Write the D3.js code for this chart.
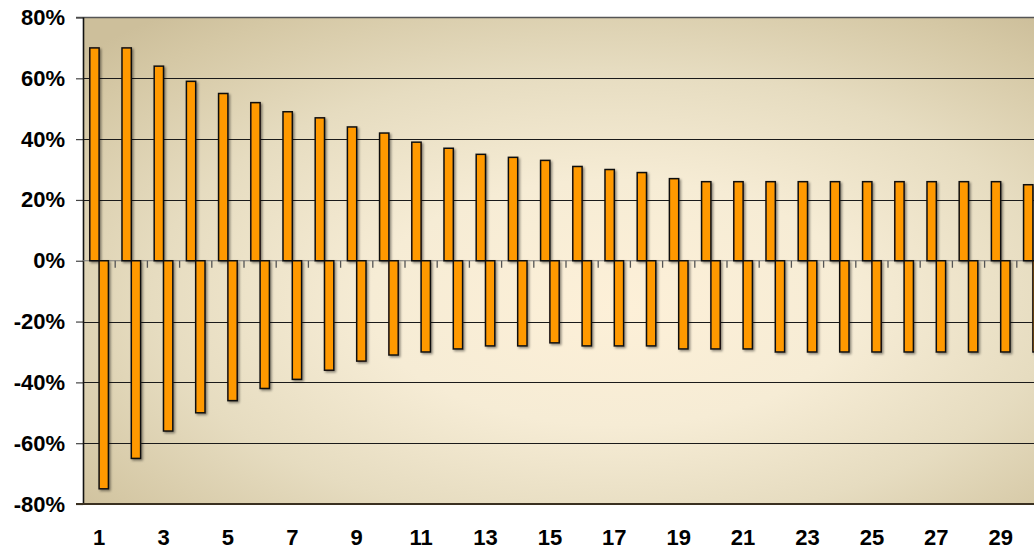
<!DOCTYPE html>
<html>
<head>
<meta charset="utf-8">
<script src="https://cdn.jsdelivr.net/npm/d3@7"></script>
<style>
  html, body { margin: 0; padding: 0; background: #ffffff; }
  svg { display: block; }
  text { font-family: "Liberation Sans", Arial, sans-serif; font-weight: bold; fill: #000; }
</style>
</head>
<body>
<svg id="chart" width="1034" height="550"></svg>
<script>
// Periods along the horizontal axis
const categories = d3.range(1, 31);
// Upward and downward movements per period (fractions)
const upValues = [0.70, 0.70, 0.64, 0.59, 0.55, 0.52, 0.49, 0.47, 0.44, 0.42,
                  0.39, 0.37, 0.35, 0.34, 0.33, 0.31, 0.30, 0.29, 0.27, 0.26,
                  0.26, 0.26, 0.26, 0.26, 0.26, 0.26, 0.26, 0.26, 0.26, 0.25];
const downValues = [-0.75, -0.65, -0.56, -0.50, -0.46, -0.42, -0.39, -0.36, -0.33, -0.31,
                    -0.30, -0.29, -0.28, -0.28, -0.27, -0.28, -0.28, -0.28, -0.29, -0.29,
                    -0.29, -0.30, -0.30, -0.30, -0.30, -0.30, -0.30, -0.30, -0.30, -0.30];
// Axis ticks
const yTicks = [-0.8, -0.6, -0.4, -0.2, 0, 0.2, 0.4, 0.6, 0.8];
const xTickLabels = [1, 3, 5, 7, 9, 11, 13, 15, 17, 19, 21, 23, 25, 27, 29];

const svg = d3.select("#chart");
const plotLeft = 83, plotTop = 17.5, plotBottom = 504, step = 32.2;
const plotRight = plotLeft + categories.length * step;

const x = d3.scaleBand().domain(categories).range([plotLeft, plotRight]).padding(0);
const sub = d3.scaleBand().domain(["up", "down"]).range([0, x.bandwidth()])
  .paddingInner(0).paddingOuter(0.73);
const y = d3.scaleLinear().domain([-0.8, 0.8]).range([plotBottom, plotTop]);

const pct = d3.formatLocale({decimal: ".", thousands: ",", grouping: [3], currency: ["", ""], minus: "-"}).format(".0%");

const defs = svg.append("defs");
const grad = defs.append("radialGradient").attr("id", "plotBg")
  .attr("cx", 0.53).attr("cy", 0.56).attr("r", 0.72).attr("fx", 0.56).attr("fy", 0.6);
[[0, "#fdf0d8"], [0.35, "#f6ecd5"], [0.65, "#e6dcc0"], [0.9, "#d5c8a5"], [1, "#cdbf9b"]]
  .forEach(([o, c]) => grad.append("stop").attr("offset", o).attr("stop-color", c));

const shadow = defs.append("filter").attr("id", "barShadow")
  .attr("x", "-50%").attr("y", "-10%").attr("width", "200%").attr("height", "120%");
shadow.append("feDropShadow").attr("dx", 1.5).attr("dy", 1.5).attr("stdDeviation", 0.9)
  .attr("flood-color", "#000").attr("flood-opacity", 0.45);

// Plot area
svg.append("rect").attr("x", plotLeft).attr("y", plotTop)
  .attr("width", plotRight - plotLeft).attr("height", plotBottom - plotTop)
  .attr("fill", "url(#plotBg)");

// Horizontal gridlines
svg.append("g").selectAll("line")
  .data(yTicks.filter(v => v !== 0 && v !== -0.8 && v !== 0.8))
  .join("line")
  .attr("x1", plotLeft).attr("x2", plotRight)
  .attr("y1", d => Math.round(y(d)) + 0.5).attr("y2", d => Math.round(y(d)) + 0.5)
  .attr("stroke", "#1a1a1a").attr("stroke-width", 1.2);

// Top border line
svg.append("line").attr("x1", plotLeft - 7).attr("x2", plotRight)
  .attr("y1", plotTop).attr("y2", plotTop).attr("stroke", "#555").attr("stroke-width", 1.6);

// Y axis
const yAxis = svg.append("g").attr("transform", `translate(${plotLeft},0)`)
  .call(d3.axisLeft(y).tickValues(yTicks).tickFormat(pct).tickSize(7).tickPadding(11));
yAxis.select(".domain").remove();
yAxis.selectAll(".tick line").attr("stroke", "#444").attr("stroke-width", 1.2);
yAxis.selectAll(".tick text").attr("font-size", 22).attr("font-family", "Liberation Sans, Arial, sans-serif")
  .attr("font-weight", "bold").attr("fill", "#000");
svg.append("line").attr("x1", plotLeft + 0.5).attr("x2", plotLeft + 0.5)
  .attr("y1", plotTop).attr("y2", plotBottom).attr("stroke", "#111").attr("stroke-width", 1.6);

// Zero line with category ticks
const y0 = y(0);
svg.append("line").attr("x1", plotLeft).attr("x2", plotRight)
  .attr("y1", y0).attr("y2", y0).attr("stroke", "#7a7a7a").attr("stroke-width", 1.2);
svg.append("g").selectAll("line").data(categories.slice(1)).join("line")
  .attr("x1", d => x(d)).attr("x2", d => x(d))
  .attr("y1", y0).attr("y2", y0 + 7)
  .attr("stroke", "#555").attr("stroke-width", 1.3);

// Bars
const bars = svg.append("g").attr("filter", "url(#barShadow)");
bars.selectAll("rect.up").data(categories).join("rect").attr("class", "up")
  .attr("x", (d) => x(d) + sub("up"))
  .attr("width", sub.bandwidth())
  .attr("y", (d, i) => y(upValues[i]))
  .attr("height", (d, i) => y0 - y(upValues[i]))
  .attr("fill", "#ff9900").attr("stroke", "#111").attr("stroke-width", 1.5);
bars.selectAll("rect.down").data(categories).join("rect").attr("class", "down")
  .attr("x", (d) => x(d) + sub("down"))
  .attr("width", sub.bandwidth())
  .attr("y", y0)
  .attr("height", (d, i) => y(downValues[i]) - y0)
  .attr("fill", "#ff9900").attr("stroke", "#111").attr("stroke-width", 1.5);

// Bottom border
svg.append("line").attr("x1", plotLeft - 7).attr("x2", plotRight)
  .attr("y1", plotBottom).attr("y2", plotBottom).attr("stroke", "#3a3020").attr("stroke-width", 2.2);

// X axis labels
const xAxis = svg.append("g").attr("transform", `translate(0,${plotBottom})`)
  .call(d3.axisBottom(x).tickValues(xTickLabels).tickSize(0).tickPadding(25));
xAxis.select(".domain").remove();
xAxis.selectAll(".tick text").attr("font-size", 22).attr("font-family", "Liberation Sans, Arial, sans-serif")
  .attr("font-weight", "bold").attr("fill", "#000");
</script>
</body>
</html>
